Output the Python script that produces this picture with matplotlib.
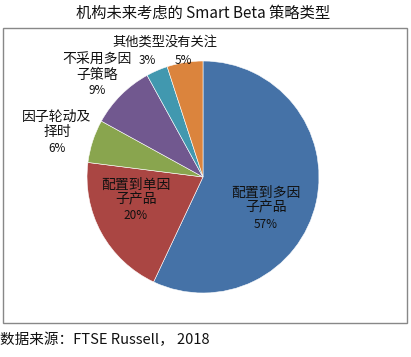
import matplotlib
matplotlib.use("Agg")
import matplotlib.pyplot as plt
from matplotlib.patches import Rectangle

plt.rcParams['font.family'] = ['Noto Sans CJK SC', 'DejaVu Sans']

categories = ["配置到多因\n子产品", "配置到单因\n子产品", "因子轮动及\n择时", "不采用多因\n子策略", "其他类型", "没有关注"]
values = [57, 20, 6, 9, 3, 5]
pct_labels = ["57%", "20%", "6%", "9%", "3%", "5%"]
colors = ["#4572A7", "#AA4643", "#89A54E", "#71588F", "#4198AF", "#DB843D"]
title = "机构未来考虑的 Smart Beta 策略类型"
source = "数据来源：FTSE Russell， 2018"

W, H = 411, 357
fig = plt.figure(figsize=(W / 100, H / 100), dpi=100)
fig.patch.set_facecolor("white")

# outer chart box
fig.patches.append(Rectangle((3 / W, (H - 323) / H), 404 / W, 295 / H,
                             transform=fig.transFigure, fill=False,
                             edgecolor="#888888", linewidth=1.0))

cx, cy, r = 203, 177, 116
ax = fig.add_axes([(cx - r) / W, (H - cy - r) / H, 2 * r / W, 2 * r / H])
ax.pie(values, colors=colors, startangle=90, counterclock=False,
       wedgeprops=dict(edgecolor="white", linewidth=0.4), radius=1.0)
ax.set_xlim(-1, 1)
ax.set_ylim(-1, 1)
ax.set_aspect("equal")
ax.axis("off")

def px(x, y):
    return x / W, 1 - y / H

# label positions (pixel centers of name and percent)
name_pos = [(266, 200), (136, 192), (57, 124), (97, 67), (139, 42), (191, 42)]
pct_pos = [(266, 224), (136, 216), (57, 148), (97, 90), (147, 60), (183, 60)]
name_size = [10, 10, 10, 10, 9.5, 9.5]

for name, pct, npos, ppos, fs in zip(categories, pct_labels, name_pos, pct_pos, name_size):
    fig.text(*px(*npos), name, ha="center", va="center", fontsize=fs,
             color="#111111", linespacing=1.1)
    fig.text(*px(*ppos), pct, ha="center", va="center", fontsize=8.5,
             color="#111111")

fig.text(*px(203, 13), title, ha="center", va="center", fontsize=11,
         color="#111111")
fig.text(*px(0, 340), source, ha="left", va="center", fontsize=10.5,
         color="#111111")

fig.savefig("out.png", dpi=100, facecolor="white")
